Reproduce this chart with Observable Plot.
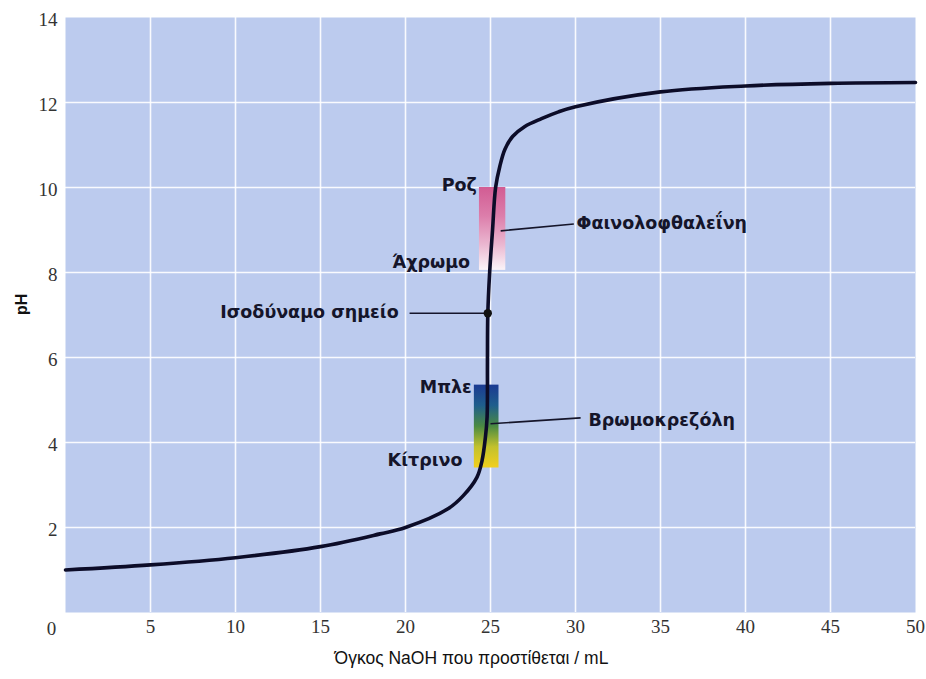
<!DOCTYPE html>
<html>
<head>
<meta charset="utf-8">
<script src="https://cdn.jsdelivr.net/npm/d3@7"></script>
<script src="https://cdn.jsdelivr.net/npm/@observablehq/plot@0.6"></script>
<style>
  body { margin: 0; background: #ffffff; }
</style>
</head>
<body>
<div id="chart"></div>
<script>
// Titration curve: volume of NaOH added (mL) vs pH
const volume = [0, 5, 10, 15, 18.5, 20, 22.5, 23.4, 24.2, 24.5, 24.7, 24.8, 24.82, 24.84, 24.95, 25.12, 25.3, 25.55, 25.85, 26.3, 27.0, 28, 29, 30, 35, 40, 45, 50];
const pH     = [1.0, 1.12, 1.29, 1.55, 1.85, 2.0, 2.44, 2.75, 3.18, 3.57, 4.12, 4.6, 5.9, 7.0, 8.0, 9.0, 10.0, 10.5, 10.9, 11.2, 11.43, 11.62, 11.78, 11.9, 12.25, 12.39, 12.45, 12.47];

// Axis ticks
const xTicks = [5, 10, 15, 20, 25, 30, 35, 40, 45, 50];
const yTicks = [2, 4, 6, 8, 10, 12, 14];
const originLabel = ["0"];
const xGrid = [5, 10, 15, 20, 25, 30, 35, 40, 45];
const yGrid = [2, 4, 6, 8, 10, 12];

// Equivalence point
const eqVolume = [24.84];
const eqPH = [7.04];

// Indicator colour-change ranges (pH) and the volume span of each bar
const indicators = ["Φαινολοφθαλεΐνη", "Βρωμοκρεζόλη"];
const indicatorLow = [8.05, 3.4];
const indicatorHigh = [10.0, 5.35];
const indicatorVolFrom = [24.35, 24.05];
const indicatorVolTo = [25.9, 25.5];

// Left-hand labels (colour names and equivalence point)
const leftLabels = ["Ροζ", "Άχρωμο", "Ισοδύναμο σημείο", "Μπλε", "Κίτρινο"];
const leftLabelVol = [24.2, 23.8, 19.6, 23.9, 23.35];
const leftLabelPH = [10.04, 8.23, 7.05, 5.29, 3.57];

// Right-hand indicator names
const rightLabelVol = [30.06, 30.76];
const rightLabelPH = [9.15, 4.51];

// Leader lines
const leaderVol1 = [20.24, 25.6, 25.0];
const leaderPH1 = [7.04, 8.98, 4.44];
const leaderVol2 = [24.84, 29.9, 30.3];
const leaderPH2 = [7.04, 9.14, 4.58];

const xLabel = "Όγκος NaOH που προστίθεται / mL";
const yLabel = "pH";

const curve = volume.map((v, i) => ({v, p: pH[i]}));

const sans = "'Liberation Sans', Arial, 'DejaVu Sans', sans-serif";
const boldSans = "'DejaVu Sans', 'Liberation Sans', Arial, sans-serif";
const serif = "'Liberation Serif', 'Times New Roman', serif";
const ink = "#15152a";

const chart = Plot.plot({
  width: 926,
  height: 679,
  marginTop: 17,
  marginRight: 11,
  marginBottom: 67,
  marginLeft: 65,
  style: {fontFamily: serif, fontSize: "19px", color: "#333", background: "#ffffff"},
  x: {domain: [0, 50], axis: null},
  y: {domain: [0, 14], axis: null},
  marks: [
    Plot.frame({fill: "#bccbee", stroke: null}),
    Plot.ruleX(xGrid, {stroke: "#ffffff", strokeWidth: 1.6, strokeOpacity: 0.9}),
    Plot.ruleY(yGrid, {stroke: "#ffffff", strokeWidth: 1.6, strokeOpacity: 0.9}),
    Plot.axisX(xTicks, {tickSize: 0, tickPadding: 7, fontSize: 19, fontFamily: serif, fill: "#333", label: null}),
    Plot.axisY(yTicks, {tickSize: 0, tickPadding: 8, fontSize: 19, fontFamily: serif, fill: "#333", label: null, dy: 2}),
    Plot.text(originLabel, {x: [0], y: [0], dx: -14, dy: 16, fontSize: 19, fontFamily: serif, fill: "#333"}),
    Plot.rect([indicators[0]], {x1: [indicatorVolFrom[0]], x2: [indicatorVolTo[0]], y1: [indicatorLow[0]], y2: [indicatorHigh[0]], fill: "url(#gradPhen)"}),
    Plot.rect([indicators[1]], {x1: [indicatorVolFrom[1]], x2: [indicatorVolTo[1]], y1: [indicatorLow[1]], y2: [indicatorHigh[1]], fill: "url(#gradBcg)"}),
    Plot.link(leaderVol1, {x1: leaderVol1, y1: leaderPH1, x2: leaderVol2, y2: leaderPH2, stroke: ink, strokeWidth: 1.6}),
    Plot.line(curve, {x: "v", y: "p", curve: "catmull-rom", stroke: "#0c0c28", strokeWidth: 3.6}),
    Plot.dot(eqVolume, {x: eqVolume, y: eqPH, r: 4.2, fill: "#111111", stroke: null}),
    Plot.text(leftLabels, {x: leftLabelVol, y: leftLabelPH, text: leftLabels, textAnchor: "end", fontFamily: boldSans, fontWeight: "bold", fontSize: 17.5, fill: ink}),
    Plot.text(indicators, {x: rightLabelVol, y: rightLabelPH, text: indicators, textAnchor: "start", fontFamily: boldSans, fontWeight: "bold", fontSize: 17.5, fill: ink}),
    Plot.text([xLabel], {frameAnchor: "bottom", dy: 51, dx: -19, text: d => d, fontFamily: sans, fontSize: 17.5, fill: "#111"}),
    Plot.text([yLabel], {frameAnchor: "left", dx: -44, rotate: -90, text: d => d, fontFamily: sans, fontWeight: "bold", fontSize: 16, fill: "#111"})
  ]
});

// Gradients for the indicator bars
const svg = d3.select(chart.tagName.toLowerCase() === "svg" ? chart : chart.querySelector("svg"));
const defs = svg.insert("defs", ":first-child");
const g1 = defs.append("linearGradient").attr("id", "gradPhen").attr("x1", 0).attr("y1", 0).attr("x2", 0).attr("y2", 1);
[["0%", "#d25c93"], ["35%", "#dc7eab"], ["70%", "#ebb8d1"], ["100%", "#fbf4f8"]].forEach(([o, c]) => g1.append("stop").attr("offset", o).attr("stop-color", c));
const g2 = defs.append("linearGradient").attr("id", "gradBcg").attr("x1", 0).attr("y1", 0).attr("x2", 0).attr("y2", 1);
[["0%", "#1b3a92"], ["25%", "#1f5e8c"], ["50%", "#4a8a42"], ["75%", "#c2c12c"], ["100%", "#f2cf1c"]].forEach(([o, c]) => g2.append("stop").attr("offset", o).attr("stop-color", c));

document.getElementById("chart").appendChild(chart);
</script>
</body>
</html>
